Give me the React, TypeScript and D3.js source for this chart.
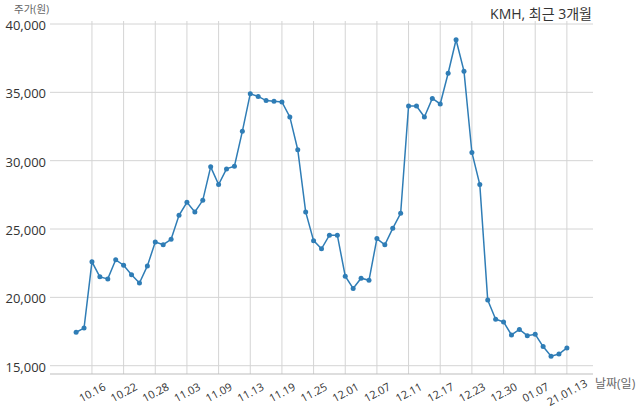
import React from "react";
import * as d3 from "d3";

const dates = [
  "10.14","10.15","10.16","10.19","10.20","10.21","10.22","10.23","10.26","10.27","10.28",
  "10.29","10.30","11.02","11.03","11.04","11.05","11.06","11.09","11.10","11.11","11.12","11.13",
  "11.16","11.17","11.18","11.19","11.20","11.23","11.24","11.25","11.26","11.27","11.30","12.01",
  "12.02","12.03","12.04","12.07","12.08","12.09","12.10","12.11","12.14","12.15","12.16","12.17",
  "12.18","12.21","12.22","12.23","12.24","12.28","12.29","12.30","01.04","01.05","01.06","01.07",
  "01.08","01.11","01.12","21.01.13"
];

const prices = [
  17450, 17750, 22600, 21500, 21350, 22750, 22350, 21650, 21050, 22300, 24050,
  23850, 24250, 26000, 26950, 26250, 27100, 29550, 28250, 29400, 29600, 32150,
  34900, 34700, 34400, 34350, 34300, 33200, 30800, 26250, 24150, 23550, 24550,
  24550, 21550, 20650, 21400, 21250, 24300, 23850, 25050, 26150, 34000, 34000,
  33200, 34550, 34150, 36400, 38850, 36550, 30600, 28250, 19800, 18400, 18200,
  17250, 17650, 17200, 17300, 16400, 15700, 15850, 16300
];

const tickLabels = [
  "10.16","10.22","10.28","11.03","11.09","11.13","11.19","11.25",
  "12.01","12.07","12.11","12.17","12.23","12.30","01.07","21.01.13"
];

const yTicks = [15000, 20000, 25000, 30000, 35000, 40000];

const title = "KMH, 최근 3개월";
const yTitle = "주가(원)";
const xTitle = "날짜(일)";

export default function App() {
  const W = 640, H = 414;
  const left = 50, right = 593, top = 21, bottom = 374;
  const x = d3.scaleLinear().domain([-3.3, dates.length - 1 + 3.3]).range([left, right]);
  const y = d3.scaleLinear().domain([15000, 40000]).range([365.7, 24]);
  const line = d3.line<number>().x((_, i) => x(i)).y((d) => y(d));
  const font = "'Open Sans', 'Noto Sans CJK KR', sans-serif";
  const tickIdx = tickLabels.map((t) => dates.indexOf(t));
  return (
    <svg width={W} height={H} style={{ position: "absolute", left: 0, top: 0, fontFamily: font }}>
      <rect width={W} height={H} fill="#fff" />
      {yTicks.map((t) => (
        <line key={"gy" + t} x1={left} x2={right} y1={y(t)} y2={y(t)} stroke="#d4d4d4" strokeWidth={1} />
      ))}
      {tickIdx.map((i, k) => (
        <line key={"gx" + k} x1={x(i)} x2={x(i)} y1={top} y2={bottom} stroke="#d4d4d4" strokeWidth={1} />
      ))}
      <line x1={left} x2={right} y1={bottom} y2={bottom} stroke="#bdbdbd" strokeWidth={1} />
      {yTicks.map((t) => (
        <text key={"ly" + t} x={46} y={y(t) + 1} textAnchor="end" dominantBaseline="central" fontSize={13} fill="#333">
          {d3.format(",")(t)}
        </text>
      ))}
      {tickIdx.map((i, k) => (
        <text
          key={"lx" + k}
          transform={`translate(${x(i)},${392}) rotate(-28)`}
          textAnchor="middle"
          dominantBaseline="central"
          fontSize={11}
          fill="#333"
        >
          {tickLabels[k]}
        </text>
      ))}
      <path d={line(prices) || ""} fill="none" stroke="#2f7db6" strokeWidth={1.5} />
      {prices.map((p, i) => (
        <circle key={"c" + i} cx={x(i)} cy={y(p)} r={2.5} fill="#2f7db6" />
      ))}
      <text x={14} y={9} fontSize={10.5} fill="#666" dominantBaseline="central">{yTitle}</text>
      <text x={592} y={13} fontSize={14} fill="#333" textAnchor="end" dominantBaseline="central">{title}</text>
      <text x={595} y={383} fontSize={12} fill="#666" dominantBaseline="central">{xTitle}</text>
    </svg>
  );
}
